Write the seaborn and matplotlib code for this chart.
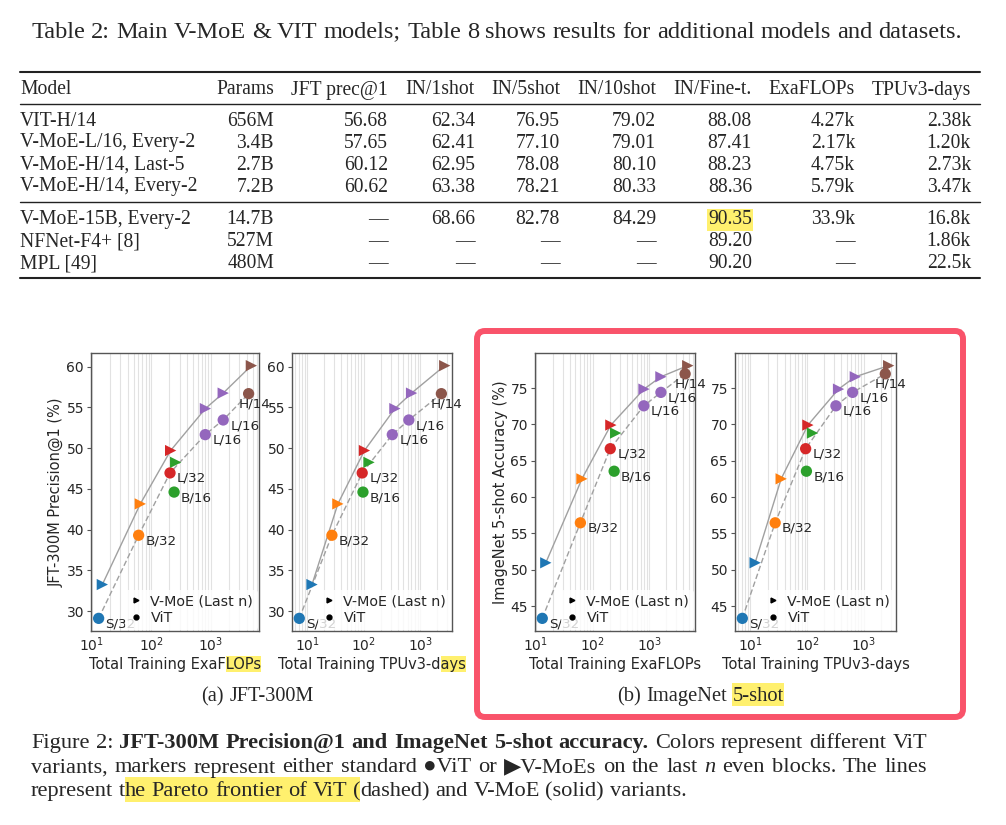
import matplotlib
matplotlib.use('Agg')
import matplotlib.pyplot as plt
import seaborn as sns
import pandas as pd
from matplotlib.transforms import Affine2D
from matplotlib.patches import Rectangle, FancyBboxPatch
from matplotlib.lines import Line2D

# Table 2 data
table_title = 'Table 2:  Main V-MoE & VIT models; Table 8 shows results for additional models and datasets.'
table_header = ['Model', 'Params', 'JFT prec@1', 'IN/1shot', 'IN/5shot',
                'IN/10shot', 'IN/Fine-t.', 'ExaFLOPs', 'TPUv3-days']
table_main = [
    ['VIT-H/14', '656M', '56.68', '62.34', '76.95', '79.02', '88.08', '4.27k', '2.38k'],
    ['V-MoE-L/16, Every-2', '3.4B', '57.65', '62.41', '77.10', '79.01', '87.41', '2.17k', '1.20k'],
    ['V-MoE-H/14, Last-5', '2.7B', '60.12', '62.95', '78.08', '80.10', '88.23', '4.75k', '2.73k'],
    ['V-MoE-H/14, Every-2', '7.2B', '60.62', '63.38', '78.21', '80.33', '88.36', '5.79k', '3.47k'],
]
table_extra = [
    ['V-MoE-15B, Every-2', '14.7B', '—', '68.66', '82.78', '84.29', '90.35', '33.9k', '16.8k'],
    ['NFNet-F4+ [8]', '527M', '—', '—', '—', '—', '89.20', '—', '1.86k'],
    ['MPL [49]', '480M', '—', '—', '—', '—', '90.20', '—', '22.5k'],
]
highlighted_cell = ('V-MoE-15B, Every-2', 'IN/Fine-t.')

# Figure 2 data (ViT circles and V-MoE "Last n" triangles)
variants = ['S/32', 'B/32', 'L/32', 'B/16', 'L/16', 'L/16', 'H/14']
variant_order = ['S/32', 'B/32', 'B/16', 'L/32', 'L/16', 'H/14']
vit_exaflops = [13.0, 61, 205, 240, 800, 1600, 4270]
moe_exaflops = [15.0, 65, 210, 255, 805, 1600, 4750]
vit_tpu = [7.2, 27.3, 94, 97, 321, 631, 2380]
moe_tpu = [12.1, 34.8, 103, 124, 357, 705, 2730]
vit_jft = [29.1, 39.3, 46.95, 44.6, 51.65, 53.45, 56.68]
moe_jft = [33.25, 43.15, 49.7, 48.25, 54.85, 56.75, 60.12]
vit_in5 = [43.3, 56.45, 66.65, 63.55, 72.55, 74.4, 76.95]
moe_in5 = [50.95, 62.5, 69.9, 68.8, 74.85, 76.55, 78.08]

df = pd.concat([
    pd.DataFrame({'variant': variants, 'kind': 'ViT', 'flops': vit_exaflops,
                  'tpu': vit_tpu, 'jft': vit_jft, 'in5': vit_in5}),
    pd.DataFrame({'variant': variants, 'kind': 'V-MoE', 'flops': moe_exaflops,
                  'tpu': moe_tpu, 'jft': moe_jft, 'in5': moe_in5}),
], ignore_index=True)

sns.set_style('ticks')
plt.rcParams['font.family'] = ['DejaVu Sans']

W, H, DPI = 1006, 825, 100
fig = plt.figure(figsize=(W / DPI, H / DPI), dpi=DPI)
renderer = fig.canvas.get_renderer()
# pixel coords, origin top-left
PX = Affine2D().scale(1 / DPI, -1 / DPI).translate(0, H / DPI) + fig.dpi_scale_trans

SERIF = ['Liberation Serif', 'DejaVu Sans']
STYLES = {'r': {}, 'h': {}, 'b': {'weight': 'bold'}, 'i': {'style': 'italic'}}
HL = '#fff06e'
FS = 14.1


def text_width(s, size=FS, family=SERIF, **kw):
    t = fig.text(0, 0, s, fontsize=size, family=family, **kw)
    w = t.get_window_extent(renderer).width
    t.remove()
    return w


def split_words(segments):
    words = []
    space = False
    for seg, st in segments:
        for k, piece in enumerate(seg.split(' ')):
            if k > 0:
                space = True
            if piece:
                words.append((piece, st, space and len(words) > 0))
                space = False
    return words


def natural_width(segments, size):
    words = split_words(segments)
    gap = text_width('n n', size) - text_width('nn', size)
    return sum(text_width(w, size, **STYLES[st]) for w, st, _ in words) + \
        gap * sum(sp for _, _, sp in words)


def fit_size(segments, target):
    return FS * target / natural_width(segments, FS)


def rich_line(segments, x, y, size, width=None, center=None):
    words = split_words(segments)
    widths = [text_width(w, size, **STYLES[st]) for w, st, _ in words]
    ngaps = sum(sp for _, _, sp in words)
    gap = text_width('n n', size) - text_width('nn', size)
    if width is not None and ngaps:
        gap = (width - sum(widths)) / ngaps
    if center is not None:
        x = center - (sum(widths) + gap * ngaps) / 2
    em = size * DPI / 72
    prev_st, prev_end = None, x
    for (w, st, sp), wd in zip(words, widths):
        if sp:
            x += gap
        fig.text(x, y, w, transform=PX, fontsize=size, family=SERIF,
                 va='baseline', **STYLES[st])
        if st == 'h':
            left = prev_end if prev_st == 'h' else x
            fig.add_artist(Rectangle((left, y - 0.86 * em), x + wd - left, 1.12 * em,
                                     transform=PX, color=HL, lw=0, zorder=-1))
        prev_st, prev_end = st, x + wd
        x += wd


# ---- table
title_seg = [(table_title, 'r')]
rich_line(title_seg, 0, 37.5, fit_size(title_seg, 931), center=496.5)
col_right = [None, 274, 388, 475, 560, 656, 752, 855, 971]


def table_row(cells, yc):
    for j, cell in enumerate(cells):
        if j == 0:
            t = fig.text(20, yc + 6.5, cell, transform=PX, fontsize=FS, family=SERIF,
                         va='baseline')
        else:
            t = fig.text(col_right[j], yc + 6.5, cell, transform=PX, fontsize=FS,
                         family=SERIF, ha='right', va='baseline')
        if (cells[0], table_header[j]) == highlighted_cell:
            bb = t.get_window_extent(renderer)
            fig.add_artist(Rectangle((col_right[j] - bb.width - 1, yc - 9), bb.width + 2, 22,
                                     transform=PX, color=HL, lw=0, zorder=-1))


def rule(y, lw):
    fig.add_artist(Line2D([20, 980], [y, y], transform=PX, color='#222222', lw=lw))


rule(71.5, 1.5)
table_row(table_header, 88)
rule(103.5, 1.0)
for i, r in enumerate(table_main):
    table_row(r, 119 + 22 * i)
rule(201.5, 1.0)
for i, r in enumerate(table_extra):
    table_row(r, 217.5 + 22 * i)
rule(278, 1.5)

# ---- figure panels
palette = dict(zip(variant_order, sns.color_palette('tab10', 6)))


def pareto(sub, xcol, ycol):
    sub = sub.sort_values(xcol)
    keep = sub[ycol] > sub[ycol].cummax().shift(fill_value=-1e9)
    return sub[keep]


def axes_px(l, t, r, b):
    return fig.add_axes([l / W, 1 - b / H, (r - l) / W, (b - t) / H])


def panel(ax, xcol, ycol, xlabel, ylabel=None):
    ax.set_xscale('log')
    for kind, ls in [('V-MoE', '-'), ('ViT', (0, (4, 2)))]:
        front = pareto(df[df['kind'] == kind], xcol, ycol)
        sns.lineplot(data=front, x=xcol, y=ycol, sort=False, estimator=None,
                     color='#a0a0a0', lw=1.0, linestyle=ls, ax=ax, zorder=2)
    sns.scatterplot(data=df, x=xcol, y=ycol, hue='variant', hue_order=variant_order,
                    palette=palette, style='kind', style_order=['V-MoE', 'ViT'],
                    markers={'V-MoE': '>', 'ViT': 'o'}, s=66, linewidth=0,
                    legend=False, ax=ax, zorder=3)
    vit = df[df['kind'] == 'ViT']
    for _, r in vit.iterrows():
        off = (-7.5, -7.5) if r['variant'] == 'H/14' else (5, -4)
        ax.annotate(r['variant'], (r[xcol], r[ycol]), xytext=off,
                    textcoords='offset points', fontsize=9.7, ha='left', va='center')
    handles = [Line2D([], [], marker='>', color='k', ls='none', markersize=3.5),
               Line2D([], [], marker='o', color='k', ls='none', markersize=3.5)]
    ax.legend(handles, ['V-MoE (Last n)', 'ViT'], loc='lower right', fontsize=10.3,
              frameon=True, framealpha=0.8, edgecolor='none', handlelength=1.0,
              handletextpad=0.5, borderaxespad=0.1, borderpad=0.3, labelspacing=0.2)
    ax.grid(True, which='both', axis='x', color='#e2e2e2', lw=0.8)
    ax.set_axisbelow(True)
    for s in ax.spines.values():
        s.set_color('#555555')
        s.set_linewidth(1.0)
    ax.tick_params(axis='y', labelsize=10, length=3, pad=2, color='#555555')
    ax.tick_params(axis='x', which='both', labelsize=10, length=0, pad=3)
    ax.set_xlabel(xlabel, fontsize=10.5, labelpad=2)
    ax.set_ylabel(ylabel if ylabel else '', fontsize=10.5, labelpad=2)


ax1 = axes_px(91, 353, 259, 631)
ax2 = axes_px(292, 353, 452, 631)
ax3 = axes_px(535, 353, 695, 631)
ax4 = axes_px(735, 353, 896, 631)
panel(ax1, 'flops', 'jft', 'Total Training ExaFLOPs', 'JFT-300M Precision@1 (%)')
panel(ax2, 'tpu', 'jft', 'Total Training TPUv3-days')
panel(ax3, 'flops', 'in5', 'Total Training ExaFLOPs', 'ImageNet 5-shot Accuracy (%)')
panel(ax4, 'tpu', 'in5', 'Total Training TPUv3-days')

fig.canvas.draw()


def highlight_tail(ax, tail):
    bb = ax.xaxis.label.get_window_extent(renderer)
    tw = text_width(tail, 10.5, family=['DejaVu Sans'])
    fig.add_artist(Rectangle((bb.x1 - tw, H - bb.y1 - 1), tw, bb.height + 1, transform=PX,
                             color=HL, lw=0, zorder=-1))


highlight_tail(ax1, 'LOPs')
highlight_tail(ax2, 'ays')

# red selection box around panel (b)
fig.add_artist(FancyBboxPatch((477, 331), 486, 386, boxstyle='round,pad=0,rounding_size=8',
                              transform=PX, fill=False, ec='#f9536a', lw=4.3, zorder=5))

# captions
sub_a = [('(a) JFT-300M', 'r')]
sub_b = [('(b) ImageNet ', 'r'), ('5-shot', 'h')]
rich_line(sub_a, 0, 701, fit_size(sub_a, 113), center=257.5)
rich_line(sub_b, 0, 701, fit_size(sub_b, 167), center=700.5)

cap1 = [('Figure 2: ', 'r'),
        ('JFT-300M Precision@1 and ImageNet 5-shot accuracy.', 'b'),
        (' Colors represent different ViT', 'r')]
cap2 = [('variants, markers represent either standard \u25cfViT or \u25b6V-MoEs on the last ', 'r'),
        ('n', 'i'), (' even blocks. The lines', 'r')]
cap3 = [('represent t', 'r'), ('he Pareto frontier of ViT (', 'h'),
        ('dashed) and V-MoE (solid) variants.', 'r')]
cap_size = fit_size(cap3, 657)
rich_line(cap1, 31, 748, cap_size, width=896)
rich_line(cap2, 31, 772.5, cap_size, width=896)
rich_line(cap3, 31, 796, cap_size)

fig.savefig('out.png', dpi=DPI)
